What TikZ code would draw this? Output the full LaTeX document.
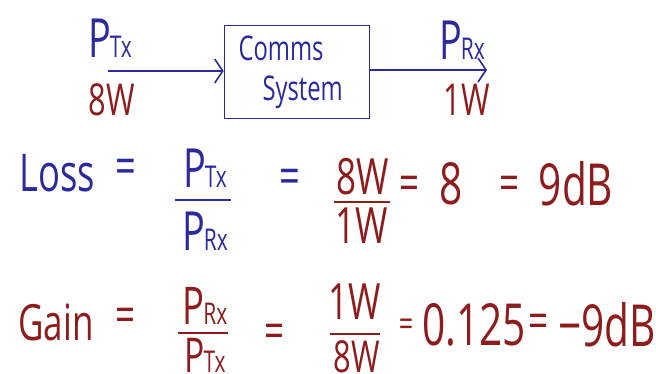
\documentclass[tikz,border=0pt]{standalone}
\usepackage{fontspec}
\setmainfont[FakeStretch=0.7]{Open Sans}
\usetikzlibrary{arrows.meta, positioning}
\definecolor{InkBlue}{HTML}{2A2A9E}
\definecolor{InkRed}{HTML}{8E1C1C}
\newcommand{\psub}[1]{P\kern-1pt{\fontsize{30}{32}\selectfont #1}}

\begin{document}
\begin{tikzpicture}[
    x=1pt, y=-1pt,
    blu/.style={text=InkBlue, inner sep=0pt, font=\fontsize{52}{56}\selectfont},
    rd/.style={text=InkRed, inner sep=0pt, font=\fontsize{50}{54}\selectfont},
    big/.style={text=InkRed, inner sep=0pt, font=\fontsize{58}{62}\selectfont},
    lbl/.style={text=InkRed, inner sep=0pt, font=\fontsize{44}{48}\selectfont},
    pw/.style={text=InkBlue, inner sep=0pt, font=\fontsize{54}{58}\selectfont},
    frac/.style={inner sep=0pt, minimum height=0pt},
    sysbox/.style={rectangle, draw=InkBlue, line width=1.6pt, text width=125pt, inner sep=10pt, minimum height=85pt,
        text=InkBlue, align=left, font=\fontsize{34}{40}\selectfont},
    arrow/.style={-{Straight Barb[length=8pt, width=24pt, line width=1.6pt]}, line width=1.6pt, draw=InkBlue},
    barb/.style={line width=1.6pt}
]
\useasboundingbox (0,0) rectangle (656,374);

% block diagram
\node[sysbox] (sys) at (297,72) {\hspace*{4pt}Comms\\\hspace*{28pt}System};
\coordinate (tx) at (108,71);
\coordinate (rx) at (487,70);
\draw[arrow] (tx) -- (sys.west |- tx);
\draw[arrow] (sys.east |- rx) -- (rx);
\node[pw] (ptx) at (110,38) {\psub{Tx}};
\node[pw] (prx) at (462,40) {\psub{Rx}};
\node[lbl] (ptxval) at (112,100) {8W};
\node[lbl] (prxval) at (467,100) {1W};

% loss
\node[blu] (loss) at (57,173) {Loss};
\node[blu] (losseq) at (126,172) {=};
\node[pw] (lnum) at (205,168) {\psub{Tx}};
\node[frac, minimum width=55pt] (lbar) at (203,200) {};
\node[pw] (lden) at (205,231) {\psub{Rx}};
\node[blu] (lossmid) at (290,182) {=};
\node[rd] (lwnum) at (363,177) {8W};
\node[frac, minimum width=55pt] (lwbar) at (362,202) {};
\node[rd] (lwden) at (362,226) {1W};
\node[rd] (lossa) at (410,188) {=};
\node[big] (lossb) at (451,184) {8};
\node[rd] (lossc) at (510,188) {=};
\node[big] (lossd) at (576,184) {9dB};
\draw[InkBlue, barb] (lbar.west) -- (lbar.east);
\draw[InkRed, barb] (lwbar.west) -- (lwbar.east);

% gain
\node[rd] (gain) at (56,322) {Gain};
\node[rd] (gaineq) at (126,320) {=};
\node[rd, font=\fontsize{52}{56}\selectfont] (gnum) at (205,306) {\psub{Rx}};
\node[frac, minimum width=50pt] (gbar) at (203,333) {};
\node[rd, font=\fontsize{48}{52}\selectfont] (gden) at (205,355) {\psub{Tx}};
\node[rd] (gainmid) at (275,336) {=};
\node[rd] (gwnum) at (355,302) {1W};
\node[frac, minimum width=50pt] (gwbar) at (355,334) {};
\node[rd, font=\fontsize{44}{48}\selectfont] (gwden) at (357,357) {8W};
\node[rd, font=\fontsize{36}{40}\selectfont] (gaina) at (406,328) {=};
\node[big] (gainb) at (474,325) {0.125};
\node[rd] (gainc) at (539,326) {=};
\node[big] (gaind) at (607,325) {−9dB};
\draw[InkRed, barb] (gbar.west) -- (gbar.east);
\draw[InkRed, barb] (gwbar.west) -- (gwbar.east);
\end{tikzpicture}
\end{document}
